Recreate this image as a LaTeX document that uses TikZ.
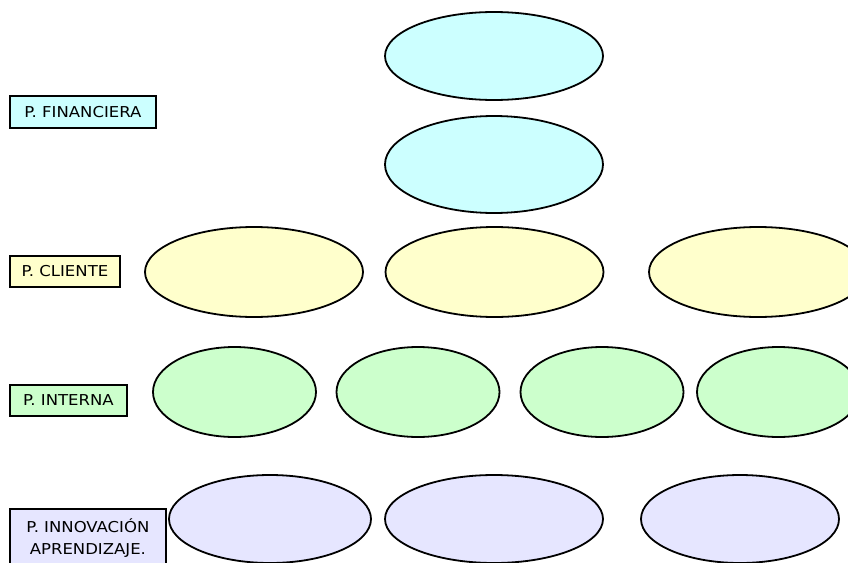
\documentclass[tikz,border=0pt]{standalone}
\usepackage{fontspec}
\setmainfont[FakeStretch=1.1]{DejaVu Sans}
\usetikzlibrary{shapes.geometric}
\definecolor{finfill}{HTML}{CCFFFF}
\definecolor{clifill}{HTML}{FFFFCC}
\definecolor{intfill}{HTML}{CCFFCC}
\definecolor{innfill}{HTML}{E6E6FF}
\begin{document}
\begin{tikzpicture}[x=1pt,y=-1pt,
  bubble/.style={ellipse, draw=black, line width=1.8pt, inner sep=0pt},
  tag/.style={draw=black, line width=1.8pt, anchor=north west, inner sep=0pt,
    align=center, font=\fontsize{15}{22}\selectfont},
]
\useasboundingbox (0,0) rectangle (848,562);
\clip (0,0) rectangle (848,562);

% perspective labels
\node[tag, fill=finfill, minimum width=146pt, minimum height=32pt] (lfin) at (9,95) {P. FINANCIERA};
\node[tag, fill=clifill, minimum width=110pt, minimum height=31pt] (lcli) at (9,255) {P. CLIENTE};
\node[tag, fill=intfill, minimum width=117pt, minimum height=31pt] (lint) at (9,384) {P. INTERNA};
\node[tag, fill=innfill, minimum width=156pt, minimum height=58pt] (linn) at (9,508) {P. INNOVACIÓN\\APRENDIZAJE.};

% financial objectives
\node[bubble, fill=finfill, minimum width=218pt, minimum height=88pt] (f1) at (494,56) {};
\node[bubble, fill=finfill, minimum width=218pt, minimum height=97pt] (f2) at (494,164.5) {};

% customer objectives
\node[bubble, fill=clifill, minimum width=218pt, minimum height=90pt] (c1) at (254,272) {};
\node[bubble, fill=clifill, minimum width=218pt, minimum height=90pt] (c2) at (494.5,272) {};
\node[bubble, fill=clifill, minimum width=218pt, minimum height=90pt] (c3) at (758,272) {};

% internal process objectives
\node[bubble, fill=intfill, minimum width=163pt, minimum height=90pt] (i1) at (234.5,392) {};
\node[bubble, fill=intfill, minimum width=163pt, minimum height=90pt] (i2) at (418,392) {};
\node[bubble, fill=intfill, minimum width=163pt, minimum height=90pt] (i3) at (602,392) {};
\node[bubble, fill=intfill, minimum width=163pt, minimum height=90pt] (i4) at (778.5,392) {};

% learning and growth objectives
\node[bubble, fill=innfill, minimum width=202pt, minimum height=88pt] (n1) at (270,519) {};
\node[bubble, fill=innfill, minimum width=218pt, minimum height=88pt] (n2) at (494,519) {};
\node[bubble, fill=innfill, minimum width=198pt, minimum height=88pt] (n3) at (740,519) {};
\end{tikzpicture}
\end{document}
